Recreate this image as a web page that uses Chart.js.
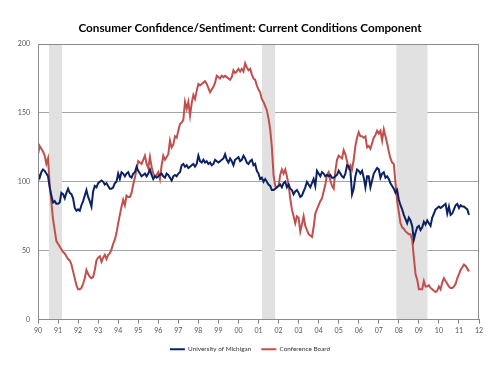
<!DOCTYPE html>
<html>
<head>
<meta charset="utf-8">
<script src="https://cdn.jsdelivr.net/npm/chart.js@4.4.1/dist/chart.umd.min.js"></script>
<style>
  html, body { margin: 0; padding: 0; background: #ffffff; }
  #wrap { width: 500px; height: 375px; }
</style>
</head>
<body>
<div id="wrap"><canvas id="c" width="500" height="375"></canvas></div>
<script>
// ---- Data (monthly, Jan 1990 onward) ----
const startYear = 1990;
const seriesNames = ['University of Michigan', 'Conference Board'];
const michigan = [
  106,103,107,109,108,106,104,96,90,85,86,84,      // 1990
  84,85,92,91,88,92,95,92,91,88,81,79,             // 1991
  80,79,83,86,90,94,89,86,82,93,97,96,             // 1992
  99,100,101,100,98,99,97,95,95,96,99,100,         // 1993
  106,102,107,106,104,106,107,104,103,106,107,111, // 1994
  108,106,104,105,106,104,106,109,105,102,104,103, // 1995
  104,105,106,104,103,106,105,103,101,104,105,104, // 1996
  106,107,112,113,111,112,110,111,112,113,111,113, // 1997
  119,115,114,116,114,115,113,114,112,113,116,115, // 1998
  114,115,116,117,120,116,114,117,115,112,116,117, // 1999
  118,115,116,119,117,114,113,115,116,112,113,108, // 2000
  106,102,103,100,102,100,98,97,94,94,95,96,       // 2001
  97,98,96,99,100,96,98,95,94,91,93,94,            // 2002
  92,89,90,93,96,100,98,96,99,102,97,108,          // 2003
  106,104,107,106,104,105,104,105,103,103,104,105, // 2004
  108,106,104,103,106,112,111,108,91,95,104,109,   // 2005
  108,106,108,103,96,104,104,96,101,106,108,110,   // 2006
  109,103,106,107,103,104,102,99,97,95,92,94,      // 2007
  87,83,80,76,73,70,74,72,68,58,63,67,             // 2008
  68,65,67,71,69,72,70,68,74,77,80,81,             // 2009
  82,81,82,83,84,77,82,76,77,80,83,84,             // 2010
  81,83,82,82,81,80,76                             // 2011
];
const confBoard = [
  120,126,124,122,119,113,117,98,85,73,65,57,      // 1990
  55,53,51,49,48,46,44,43,40,35,30,25,             // 1991
  22,22,23,26,30,36,33,31,30,31,36,43,             // 1992
  45,46,42,45,47,44,47,48,51,55,58,63,             // 1993
  70,76,82,87,83,90,89,89,92,98,103,109,           // 1994
  115,114,113,116,119,113,110,118,111,106,104,105, // 1995
  107,102,112,119,116,118,120,130,125,127,133,132, // 1996
  137,142,143,145,158,153,158,148,157,163,160,166, // 1997
  171,170,171,172,173,171,168,165,167,169,172,177, // 1998
  176,175,177,176,177,176,175,174,176,181,179,180, // 1999
  182,180,182,180,186,183,181,182,178,175,174,170, // 2000
  167,165,160,158,155,152,146,138,125,105,97,96,   // 2001
  97,105,109,106,109,104,98,88,80,75,70,75,        // 2002
  74,64,69,75,68,65,62,61,60,67,77,80,             // 2003
  83,86,88,93,98,105,107,101,97,95,108,116,        // 2004
  119,118,117,123,120,115,110,112,109,116,126,132, // 2005
  136,133,133,132,133,125,126,124,128,132,134,137, // 2006
  135,137,130,138,133,128,122,117,114,113,99,86,   // 2007
  78,70,67,66,64,63,62,62,58,45,33,29,             // 2008
  22,22,22,28,24,24,25,23,22,21,20,21,             // 2009
  24,22,27,30,28,26,24,23,23,24,26,30,             // 2010
  33,36,38,40,39,37,35                             // 2011
];
// Recessions (decimal years)
const recessionStart = [1990.54, 2001.17, 2007.87];
const recessionEnd   = [1991.20, 2001.84, 2009.44];
const recessionTop = 200;
// Axis tick labels
const yearLabels = ['90','91','92','93','94','95','96','97','98','99','00','01','02','03','04','05','06','07','08','09','10','11','12'];
const yTicks = [0, 50, 100, 150, 200];

// ---- Build ----
const toXY = arr => arr.map((v, i) => ({ x: startYear + i / 12, y: v }));
const FONT = 'Lato, "Open Sans", "Liberation Sans", sans-serif';

const bandSets = recessionStart.map((s, k) => ({
  label: 'recession' + k,
  data: [{ x: s, y: recessionTop }, { x: recessionEnd[k], y: recessionTop }],
  fill: 'origin',
  backgroundColor: '#e1e1e1',
  borderWidth: 0,
  borderColor: 'rgba(0,0,0,0)',
  pointRadius: 0,
  tension: 0
}));

const framePlugin = {
  id: 'frame',
  afterDatasetsDraw(chart) {
    const a = chart.chartArea, ctx = chart.ctx;
    ctx.save();
    ctx.strokeStyle = '#8c8c8c';
    ctx.lineWidth = 1;
    ctx.strokeRect(Math.round(a.left) + 0.5, Math.round(a.top) + 0.5,
                   Math.round(a.right - a.left) - 1, Math.round(a.bottom - a.top) - 1);
    ctx.restore();
  }
};

new Chart(document.getElementById('c'), {
  type: 'line',
  data: {
    datasets: [
      {
        label: seriesNames[0],
        data: toXY(michigan),
        borderColor: '#0b2262',
        backgroundColor: '#0b2262',
        borderWidth: 2,
        pointRadius: 0,
        pointStyle: 'line',
        tension: 0,
        fill: false
      },
      {
        label: seriesNames[1],
        data: toXY(confBoard),
        borderColor: '#c0504d',
        backgroundColor: '#c0504d',
        borderWidth: 2,
        pointRadius: 0,
        pointStyle: 'line',
        tension: 0,
        fill: false
      },
      ...bandSets
    ]
  },
  options: {
    responsive: false,
    animation: false,
    devicePixelRatio: 1,
    layout: { padding: { left: 0, right: 0, top: 0, bottom: 12.5 } },
    plugins: {
      tooltip: { enabled: false },
      title: {
        display: true,
        text: 'Consumer Confidence/Sentiment: Current Conditions Component',
        color: '#000000',
        font: { family: FONT, size: 11.7, weight: 'bold' },
        padding: { top: 21, bottom: 9 }
      },
      legend: {
        display: true,
        position: 'bottom',
        labels: {
          filter: item => item.datasetIndex < 2,
          usePointStyle: true,
          pointStyleWidth: 15,
          boxHeight: 7,
          padding: 10,
          color: '#333333',
          font: { family: FONT, size: 6.4 }
        }
      }
    },
    scales: {
      x: {
        type: 'linear',
        min: startYear,
        max: startYear + yearLabels.length - 1,
        afterFit: s => { s.height = 16.5; },
        afterBuildTicks: s => { s.ticks = yearLabels.map((_, i) => ({ value: startYear + i })); },
        ticks: {
          autoSkip: false,
          maxRotation: 0,
          padding: 3,
          color: '#555555',
          font: { family: FONT, size: 7 },
          callback: v => yearLabels[Math.round(v - startYear)]
        },
        grid: { display: true, drawOnChartArea: false, drawTicks: true, tickLength: 4, color: '#7f7f7f' },
        border: { display: true, color: '#8c8c8c' }
      },
      y: {
        min: 0,
        max: 200,
        afterFit: s => { s.width = 38; },
        afterBuildTicks: s => { s.ticks = yTicks.map(v => ({ value: v })); },
        ticks: {
          padding: 8,
          color: '#555555',
          font: { family: FONT, size: 7 }
        },
        grid: { display: true, drawTicks: false, color: '#a6a6a6', lineWidth: 1 },
        border: { display: true, color: '#8c8c8c' }
      },
      yRight: {
        position: 'right',
        min: 0,
        max: 200,
        afterFit: s => { s.width = 21; },
        ticks: { display: false },
        grid: { display: false, drawTicks: false },
        border: { display: false }
      }
    }
  },
  plugins: [framePlugin]
});
</script>
</body>
</html>
